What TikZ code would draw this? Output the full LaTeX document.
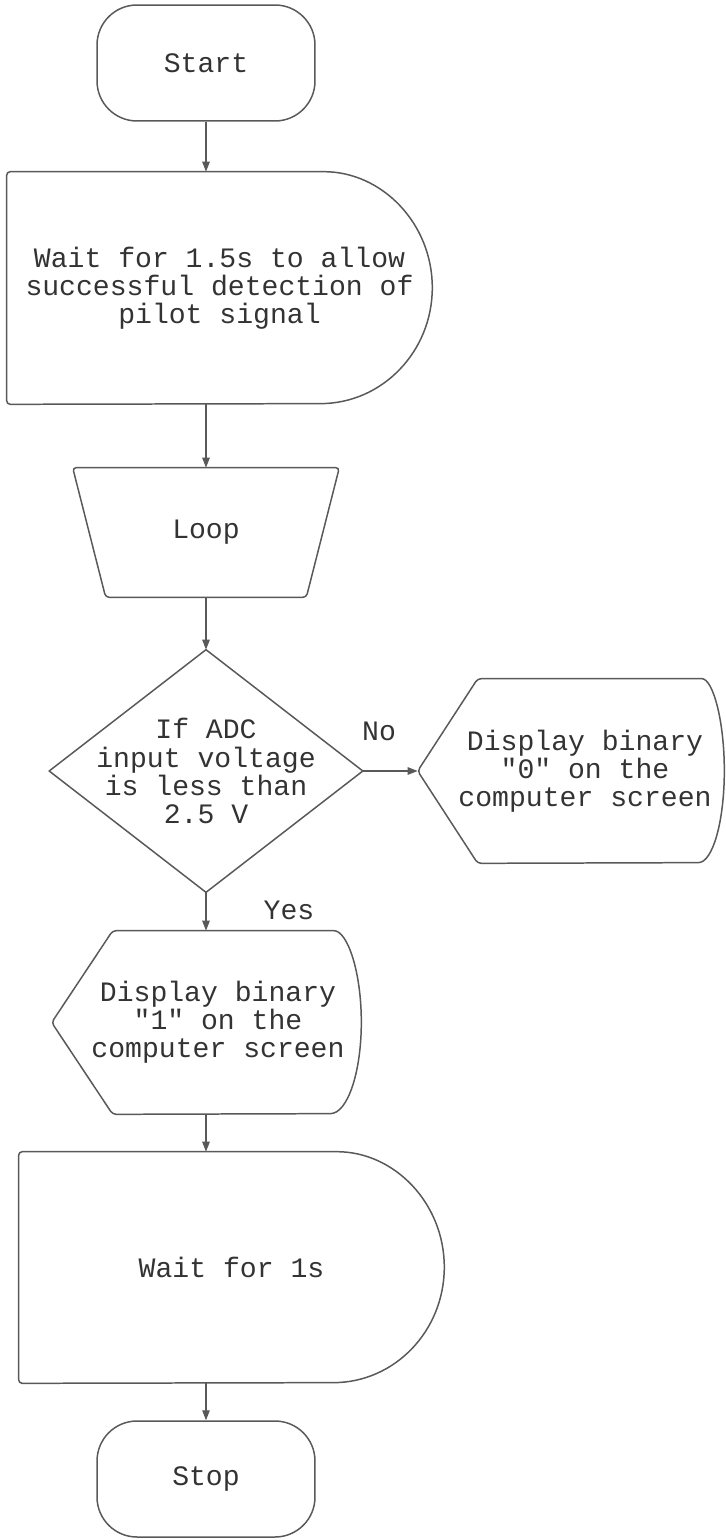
\documentclass[tikz,border=0pt]{standalone}
\usepackage{fontspec}
\newfontfamily\flowfont{Liberation Mono}
\usetikzlibrary{arrows.meta,calc}
\definecolor{ink}{HTML}{333333}
\definecolor{edge}{HTML}{595959}

\begin{document}
\begin{tikzpicture}[x=0.02cm,y=0.02cm,
  font=\flowfont\fontsize{16}{16}\selectfont,text=ink,
  outline/.style={draw=edge,line width=0.85pt,line join=round},
  term/.style={outline,rounded corners=0.8cm,minimum width=4.36cm,minimum height=2.32cm},
  box/.style={inner sep=0pt,align=center},
  flow/.style={draw=edge,line width=0.6pt,-{Triangle[length=0.2cm,width=0.15cm]}}]
\useasboundingbox (0,0) rectangle (725,-1540);

% terminators
\node[term] (start) at (206,-63) {Start};
\node[term] (stop) at (206,-1479) {Stop};

% first delay
\node[box,minimum width=8.5cm,minimum height=4.64cm] (wait1) at (219.5,-288)
  {Wait for 1.5s to allow\\successful detection of\\pilot signal};
\draw[outline] ($(wait1.north east)+(-112,0)$)
  arc[start angle=90,end angle=-90,x radius=2.24cm,y radius=2.32cm]
  [rounded corners=2pt] -- (wait1.south west) -- (wait1.north west) -- cycle;

% manual loop
\node[box,minimum width=5.32cm,minimum height=2.58cm] (loop) at (206,-532.5) {Loop};
\draw[outline,rounded corners=2pt] (loop.north west) -- (loop.north east)
  -- ($(loop.south east)+(-33,0)$) -- ($(loop.south west)+(33,0)$) -- cycle;

% decision
\node[box,minimum width=6.26cm,minimum height=4.84cm] (cond) at (206,-771)
  {If ADC\\input voltage\\is less than\\2.5 V};
\draw[outline] (cond.north) -- (cond.east) -- (cond.south) -- (cond.west) -- cycle;

% display for the "No" branch
\node[box,minimum width=5.56cm,minimum height=3.68cm] (disp0) at (585,-771)
  {Display binary\\"0" on the\\computer screen};
\coordinate (disp0 tip) at ($(disp0.west)+(-28,0)$);
\draw[outline] ($(disp0.north east)+(-26,0)$)
  arc[start angle=90,end angle=-90,x radius=0.52cm,y radius=1.84cm]
  [rounded corners=2pt] -- ($(disp0.south west)+(32,0)$) -- (disp0 tip)
  -- ($(disp0.north west)+(32,0)$) -- cycle;

% display for the "Yes" branch
\node[box,minimum width=5.72cm,minimum height=3.66cm] (disp1) at (218,-1022.5)
  {Display binary\\"1" on the\\computer screen};
\coordinate (disp1 tip) at ($(disp1.west)+(-23,0)$);
\draw[outline] ($(disp1.north east)+(-31,0)$)
  arc[start angle=90,end angle=-90,x radius=0.62cm,y radius=1.83cm]
  [rounded corners=2pt] -- ($(disp1.south west)+(38,0)$) -- (disp1 tip)
  -- ($(disp1.north west)+(38,0)$) -- cycle;

% second delay
\node[box,minimum width=8.5cm,minimum height=4.62cm] (wait2) at (231.5,-1267.5) {Wait for 1s};
\draw[outline] ($(wait2.north east)+(-111,0)$)
  arc[start angle=90,end angle=-90,x radius=2.22cm,y radius=2.31cm]
  [rounded corners=2pt] -- (wait2.south west) -- (wait2.north west) -- cycle;

% branch labels
\node (no) at (379,-731) {No};
\node (yes) at (289,-910) {Yes};

% connectors
\draw[flow] (start.south) -- (start.south |- wait1.north);
\draw[flow] (start.south |- wait1.south) -- (loop.north);
\draw[flow] (loop.south) -- (cond.north);
\draw[flow] (cond.east) -- (disp0 tip);
\draw[flow] (cond.south) -- (cond.south |- disp1.north);
\draw[flow] (cond.south |- disp1.south) -- (cond.south |- wait2.north);
\draw[flow] (stop.north |- wait2.south) -- (stop.north);
\end{tikzpicture}
\end{document}
